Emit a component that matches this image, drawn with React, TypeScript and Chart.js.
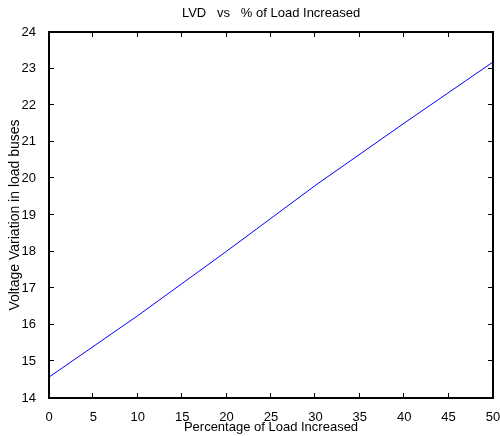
import React, { useEffect, useRef } from "react";
import { Chart, registerables } from "chart.js";

Chart.register(...registerables);

const loadPercent = [0, 10, 20, 30, 40, 50];
const voltageVariation = [14.57, 16.25, 18.01, 19.81, 21.51, 23.18];
const xTicks = [0, 5, 10, 15, 20, 25, 30, 35, 40, 45, 50];
const yTicks = [14, 15, 16, 17, 18, 19, 20, 21, 22, 23, 24];
const chartTitle = "LVD   vs   % of Load Increased";
const xTitle = "Percentage of Load Increased";
const yTitle = "Voltage Variation in load buses";

const FONT = "'Liberation Sans', Arial, sans-serif";

const framePlugin = {
  id: "matlabFrame",
  afterDatasetsDraw(chart: any) {
    const ctx: CanvasRenderingContext2D = chart.ctx;
    const { left, right, top, bottom } = chart.chartArea;
    const xs = chart.scales.x;
    const ys = chart.scales.y;
    const tl = 4;
    const L = Math.round(left) - 1;
    const R = Math.round(right) - 1;
    const T = Math.round(top) - 1;
    const B = Math.round(bottom) - 1;
    ctx.save();
    ctx.fillStyle = "#000000";
    ctx.fillRect(L, T, R - L + 2, 2);
    ctx.fillRect(L, B, R - L + 2, 2);
    ctx.fillRect(L, T, 2, B - T + 2);
    ctx.fillRect(R, T, 2, B - T + 2);
    for (const v of xTicks) {
      const px = Math.round(xs.getPixelForValue(v)) - 1;
      ctx.fillRect(px, B - tl, 1, tl);
      ctx.fillRect(px, T + 2, 1, tl);
    }
    for (const v of yTicks) {
      const py = Math.round(ys.getPixelForValue(v)) - 1;
      ctx.fillRect(L + 2, py, tl, 1);
      ctx.fillRect(R - tl, py, tl, 1);
    }
    ctx.font = `13px ${FONT}`;
    ctx.textAlign = "center";
    ctx.textBaseline = "middle";
    ctx.fillText(chartTitle, (left + right) / 2, 13);
    ctx.restore();
  },
};

export default function App() {
  const ref = useRef<HTMLCanvasElement>(null);
  useEffect(() => {
    const chart = new Chart(ref.current!, {
      type: "line",
      data: {
        datasets: [
          {
            data: loadPercent.map((x, i) => ({ x, y: voltageVariation[i] })),
            borderColor: "#0000ff",
            borderWidth: 1,
            pointRadius: 0,
            tension: 0,
            fill: false,
          },
        ],
      },
      options: {
        animation: false,
        responsive: false,
        devicePixelRatio: 1,
        layout: { padding: { top: 32, right: 7, left: 0, bottom: 0 } },
        plugins: { legend: { display: false }, title: { display: false }, tooltip: { enabled: false } },
        scales: {
          x: {
            type: "linear",
            min: 0,
            max: 50,
            afterBuildTicks: (s: any) => {
              s.ticks = xTicks.map((v) => ({ value: v }));
            },
            afterFit: (s: any) => {
              s.height = 38;
              s.paddingLeft = 0;
              s.paddingRight = 0;
            },
            grid: { display: false },
            border: { display: false },
            ticks: { color: "#000", font: { family: FONT, size: 13 }, padding: 4, maxRotation: 0, autoSkip: false },
            title: { display: true, text: xTitle, color: "#000", font: { family: FONT, size: 13 }, padding: { top: 0, bottom: 1 } },
          },
          y: {
            type: "linear",
            min: 14,
            max: 24,
            afterBuildTicks: (s: any) => {
              s.ticks = yTicks.map((v) => ({ value: v }));
            },
            afterFit: (s: any) => {
              s.width = 49;
              s.paddingTop = 0;
              s.paddingBottom = 0;
            },
            grid: { display: false },
            border: { display: false },
            ticks: { color: "#000", font: { family: FONT, size: 13 }, padding: 5, autoSkip: false },
            title: { display: true, text: yTitle, color: "#000", font: { family: FONT, size: 14 }, padding: { top: 7, bottom: 0 } },
          },
        },
      },
      plugins: [framePlugin],
    });
    return () => chart.destroy();
  }, []);
  return (
    <div style={{ position: "fixed", left: 0, top: 0, width: 500, height: 436, background: "#fff" }}>
      <canvas ref={ref} width={500} height={436} style={{ width: 500, height: 436 }} />
    </div>
  );
}
